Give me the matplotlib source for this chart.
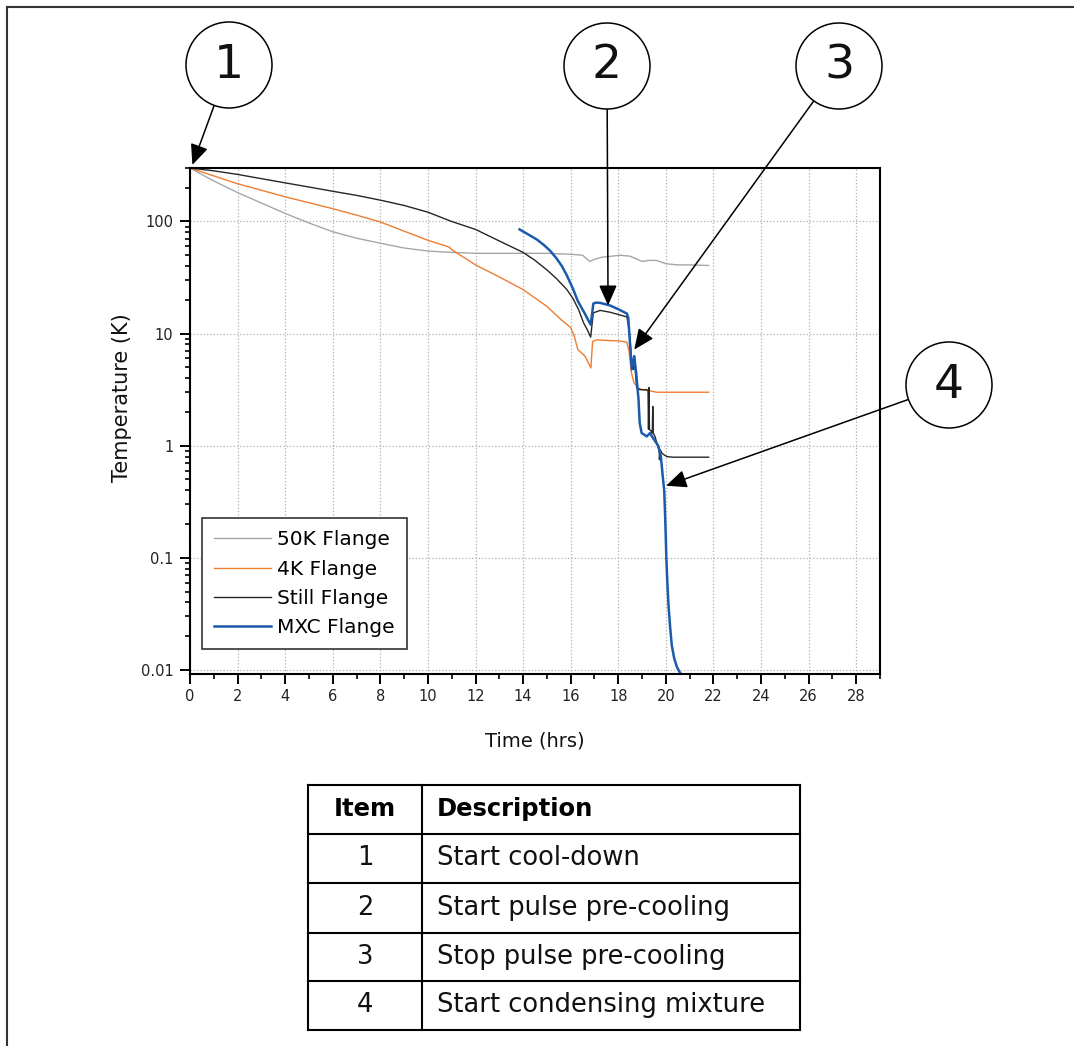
import numpy as np
import matplotlib
matplotlib.use("Agg")
import matplotlib.pyplot as plt
from matplotlib.ticker import MultipleLocator, LogLocator, FixedLocator, FixedFormatter, NullFormatter
from matplotlib.patches import Ellipse
from matplotlib.lines import Line2D

plt.rcParams['font.family'] = ['DejaVu Sans']

# ---------------- data ----------------
t_50k = [0, 0.5, 1, 1.5, 2, 3, 4, 5, 6, 7, 8, 9, 10, 11, 12, 13, 14, 15, 16, 16.5, 16.8,
         17.0, 17.3, 17.7, 18.1, 18.5, 18.8, 19.0, 19.3, 19.6, 20.0, 20.5, 21.0, 21.8]
T_50k = [300, 262, 230, 204, 181, 146, 118, 97, 81, 71, 64, 58, 54.5, 53, 52, 52, 52, 52,
         51, 50, 44, 46, 48, 49, 50, 49, 46, 44, 45, 45, 42, 41, 41, 40.5]

t_4k = [0, 1, 2, 3, 4, 5, 6, 7, 8, 9, 10, 10.8, 10.9, 11.0, 12, 13, 14, 15, 15.6, 16.0,
        16.15, 16.3, 16.6, 16.85, 16.92, 17.1, 17.5, 18.0, 18.36, 18.45, 18.55, 18.65,
        18.8, 19.0, 19.3, 19.6, 20.5, 21.8]
T_4k = [300, 255, 217, 190, 166, 147, 130, 114, 99, 82, 68, 60, 59, 56, 41, 32, 24.7, 17.5,
        13.3, 11.3, 9.5, 7.2, 6.3, 4.94, 8.5, 8.8, 8.7, 8.6, 8.4, 7.0, 4.5, 3.7,
        3.3, 3.16, 3.1, 3.0, 3.0, 3.0]

t_still = [0, 1, 2, 3, 4, 5, 6, 7, 8, 9, 10, 11, 12, 13, 14, 14.5, 15.0, 15.4, 15.84, 16.1,
           16.33, 16.54, 16.7, 16.84, 16.95, 17.24, 17.66, 18.0, 18.36, 18.42, 18.5, 18.57,
           18.64, 18.68, 18.72, 18.78, 18.92, 19.2, 19.25, 19.27, 19.29, 19.31, 19.38, 19.43,
           19.45, 19.47, 19.55, 19.65, 19.72, 19.73, 19.76, 19.85, 20.04, 20.3, 21.8]
T_still = [300, 283, 263, 241, 221, 203, 186, 171, 155, 139, 121, 100, 85, 67, 53, 45, 37, 31,
           24.7, 20.5, 16.4, 12.5, 10.8, 9.3, 15.3, 16.1, 15.5, 14.8, 14.1, 12, 8.8, 4.9,
           4.8, 6.3, 4.5, 3.27, 3.16, 3.16, 3.1, 1.4, 3.3, 1.4, 1.35, 1.3,
           2.24, 1.3, 1.2, 1.0, 0.9, 0.75, 0.92, 0.85, 0.80, 0.79, 0.79]

t_mxc = [13.85, 14.2, 14.58, 14.9, 15.13, 15.4, 15.63, 15.84, 16.1, 16.3, 16.6, 16.84, 16.9,
         16.95, 17.05, 17.24, 17.66, 18.0, 18.36, 18.42, 18.5, 18.57, 18.67, 18.75, 18.85,
         18.9, 18.98, 19.2, 19.34, 19.42, 19.51, 19.69, 19.79, 19.87, 19.93, 19.96, 19.99,
         20.02, 20.06, 20.11, 20.18, 20.25, 20.35, 20.46, 20.56, 20.67]
T_mxc = [85, 77, 69, 61, 55, 47, 40, 33, 25, 19.5, 15, 12, 15,
         18.5, 18.9, 18.8, 17.8, 16.5, 15.1, 13.9, 7.7, 4.8, 6.3, 4.5, 2.6,
         1.6, 1.3, 1.21, 1.3, 1.21, 1.13, 0.99, 0.8, 0.53, 0.40, 0.27, 0.17,
         0.10, 0.062, 0.038, 0.024, 0.0165, 0.0127, 0.0107, 0.0097, 0.009]

series_labels = ["50K Flange", "4K Flange", "Still Flange", "MXC Flange"]

x_ticks = list(range(0, 30, 2))
y_ticks = [0.01, 0.1, 1, 10, 100]
y_tick_labels = ["0.01", "0.1", "1", "10", "100"]

# annotation targets (time, temperature) and numbers
marker_numbers = ["1", "2", "3", "4"]
marker_targets = [(0.1, 320), (17.57, 17.8), (18.67, 7.2), (20.01, 0.44)]

table_header = ["Item", "Description"]
table_items = ["1", "2", "3", "4"]
table_desc = ["Start cool-down", "Start pulse pre-cooling", "Stop pulse pre-cooling",
              "Start condensing mixture"]

# ---------------- figure ----------------
W, H = 1074, 1046
fig = plt.figure(figsize=(W / 100, H / 100), dpi=100)
fig.patch.set_facecolor("white")

def fx(x):
    return x / W

def fy(y):
    return 1 - y / H

ax_l, ax_r, ax_t, ax_b = 190, 880, 168, 674
ax = fig.add_axes([fx(ax_l), fy(ax_b), (ax_r - ax_l) / W, (ax_b - ax_t) / H])

colors = ["#a6a6a6", "#ed7d31", "#262626", "#1c5bab"]
widths = [1.0, 1.0, 1.0, 1.8]
for (t, T), c, lw, lab in zip([(t_50k, T_50k), (t_4k, T_4k), (t_still, T_still), (t_mxc, T_mxc)],
                              colors, widths, series_labels):
    ax.plot(t, T, color=c, lw=lw, label=lab)

ax.set_yscale("log")
ax.set_xlim(0, 29)
ax.set_ylim(0.0092, 300)

ax.xaxis.set_major_locator(FixedLocator(x_ticks))
ax.xaxis.set_minor_locator(MultipleLocator(1))
ax.yaxis.set_major_locator(FixedLocator(y_ticks))
ax.yaxis.set_major_formatter(FixedFormatter(y_tick_labels))
ax.yaxis.set_minor_locator(LogLocator(base=10, subs=np.arange(2, 10)))
ax.yaxis.set_minor_formatter(NullFormatter())

for s in ax.spines.values():
    s.set_linewidth(1.5)
    s.set_color("black")
ax.tick_params(which="major", direction="out", length=7, width=1.4, labelsize=10.5,
               colors="black", labelcolor="#222222", pad=4)
ax.tick_params(which="minor", direction="out", length=3.8, width=1.2)
ax.tick_params(axis="y", which="major", pad=5)
ax.grid(True, which="major", color="#b0b0b0", ls=":", lw=0.9)

ax.set_xlabel("Time (hrs)", fontsize=14, color="#111111")
ax.set_ylabel("Temperature (K)", fontsize=15, color="#111111")
ax.xaxis.set_label_coords(0.5, (ax_b - 741) / (ax_b - ax_t))
ax.xaxis.label.set_va("center")
ax.yaxis.set_label_coords((122 - ax_l) / (ax_r - ax_l), (ax_b - 398) / (ax_b - ax_t))
ax.yaxis.label.set_va("center")

leg = ax.legend(loc="upper left", bbox_to_anchor=((202 - ax_l) / (ax_r - ax_l), (ax_b - 518) / (ax_b - ax_t)),
                borderaxespad=0, fontsize=14.5, handlelength=2.8, handletextpad=0.3,
                labelspacing=0.5, borderpad=0.62, fancybox=False, framealpha=1)
leg.get_frame().set_edgecolor("#333333")
leg.get_frame().set_linewidth(1.2)

# ---------------- circles + arrows ----------------
circle_centers = [(229, 65), (607, 66), (839, 66), (949, 385)]
R = 43
fig.canvas.draw()
for num, (cx, cy), (tx, ty) in zip(marker_numbers, circle_centers, marker_targets):
    fig.add_artist(Ellipse((fx(cx), fy(cy)), 2 * R / W, 2 * R / H, transform=fig.transFigure,
                           facecolor="white", edgecolor="black", lw=1.1))
    fig.text(fx(cx), fy(cy), num, ha="center", va="center", fontsize=34, color="#111111")
    tgt = ax.transData.transform((tx, ty))
    cen = np.array([cx, H - cy], dtype=float)
    d = tgt - cen
    start = cen + R * d / np.hypot(*d)
    ax.annotate("", xy=(tx, ty), xycoords="data", xytext=tuple(start),
                textcoords="figure pixels", annotation_clip=False,
                arrowprops=dict(arrowstyle="-|>,head_length=1.25,head_width=0.55",
                                mutation_scale=10, shrinkA=0, shrinkB=0,
                                color="black", lw=1.1))

# ---------------- table ----------------
tl, tr, tc = 308, 800, 422
row_y = [785, 833.5, 883, 932.5, 981, 1029.5]
lw_t = 1.5
for y in row_y:
    fig.add_artist(Line2D([fx(tl), fx(tr)], [fy(y), fy(y)], transform=fig.transFigure,
                          color="black", lw=lw_t))
for x in (tl, tc, tr):
    fig.add_artist(Line2D([fx(x), fx(x)], [fy(row_y[0]), fy(row_y[-1])], transform=fig.transFigure,
                          color="black", lw=lw_t))
col1_c = (tl + tc) / 2
desc_x = 437
fs_t = 18.5
ymid = [(row_y[i] + row_y[i + 1]) / 2 for i in range(5)]
fig.text(fx(col1_c), fy(ymid[0]), table_header[0], ha="center", va="center",
         fontsize=17.5, fontweight="bold")
fig.text(fx(desc_x), fy(ymid[0]), table_header[1], ha="left", va="center",
         fontsize=17.5, fontweight="bold")
for i, (it, de) in enumerate(zip(table_items, table_desc)):
    fig.text(fx(col1_c), fy(ymid[i + 1]), it, ha="center", va="center", fontsize=fs_t,
             color="#111111")
    fig.text(fx(desc_x), fy(ymid[i + 1]), de, ha="left", va="center", fontsize=fs_t,
             color="#111111")

# ---------------- frame ----------------
fig.add_artist(Line2D([fx(7), fx(W)], [fy(7), fy(7)], transform=fig.transFigure,
                      color="#333333", lw=1.5))
fig.add_artist(Line2D([fx(7), fx(7)], [fy(7), fy(H)], transform=fig.transFigure,
                      color="#333333", lw=1.5))

fig.savefig("out.png", dpi=100, facecolor="white")
